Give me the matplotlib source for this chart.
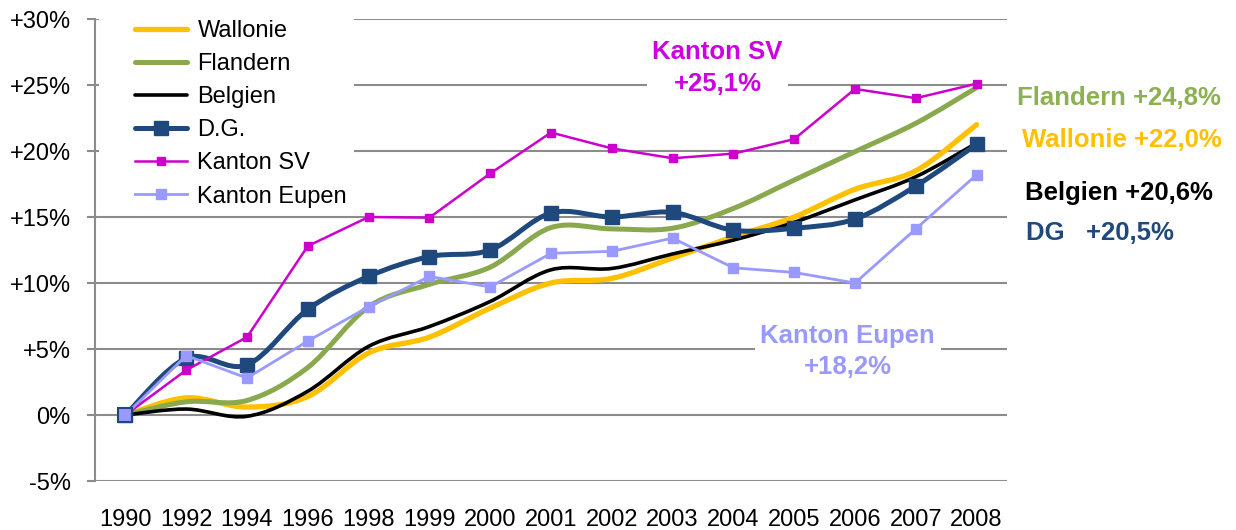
import numpy as np
import matplotlib
matplotlib.use("Agg")
import matplotlib.pyplot as plt
from matplotlib.path import Path
from matplotlib.patches import PathPatch, Rectangle
from matplotlib.lines import Line2D

plt.rcParams['font.family'] = ['Liberation Sans', 'DejaVu Sans']

years = ['1990', '1992', '1994', '1996', '1998', '1999', '2000', '2001',
         '2002', '2003', '2004', '2005', '2006', '2007', '2008']

wallonie = [0, 1.3, 0.6, 1.4, 4.7, 5.9, 8.1, 10.0, 10.35, 11.9, 13.5, 15.0, 17.1, 18.5, 22.0]
flandern = [0, 1.0, 1.1, 3.6, 8.2, 9.9, 11.2, 14.2, 14.1, 14.15, 15.65, 17.8, 19.95, 22.1, 24.8]
belgien = [0, 0.45, -0.1, 1.8, 5.2, 6.7, 8.6, 11.0, 11.1, 12.2, 13.25, 14.6, 16.3, 18.05, 20.6]
dg = [0, 4.3, 3.8, 8.0, 10.5, 12.0, 12.5, 15.3, 15.0, 15.35, 14.0, 14.15, 14.85, 17.35, 20.5]
kanton_sv = [0, 3.4, 5.9, 12.8, 15.0, 14.95, 18.3, 21.4, 20.2, 19.45, 19.8, 20.9, 24.7, 24.0, 25.1]
kanton_eupen = [0, 4.5, 2.8, 5.6, 8.2, 10.5, 9.7, 12.25, 12.4, 13.4, 11.15, 10.8, 10.0, 14.1, 18.2]

c_wal = '#FFC000'
c_fla = '#8AA84E'
c_bel = '#000000'
c_dg = '#1F497D'
c_sv = '#CC00CC'
c_eup = '#9999FF'
c_grid = '#8C8C8C'


def smooth_path(x, y):
    # Excel-like smoothed line: cubic Bezier segments (Catmull-Rom control points)
    pts = np.column_stack([x, y]).astype(float)
    n = len(pts)
    verts = [pts[0]]
    codes = [Path.MOVETO]
    for i in range(n - 1):
        p0 = pts[i - 1] if i > 0 else pts[i]
        p1 = pts[i]
        p2 = pts[i + 1]
        p3 = pts[i + 2] if i + 2 < n else pts[i + 1]
        c1 = p1 + (p2 - p0) / 6.0
        c2 = p2 - (p3 - p1) / 6.0
        verts += [c1, c2, p2]
        codes += [Path.CURVE4] * 3
    return Path(verts, codes)


fig = plt.figure(figsize=(12.36, 5.30), dpi=100)
ax = fig.add_axes([95 / 1236, 1 - 481 / 530, 912 / 1236, 462 / 530])

x = np.arange(len(years))

for vals, col, lw in [(wallonie, c_wal, 3.8), (flandern, c_fla, 3.6),
                      (belgien, c_bel, 2.6), (dg, c_dg, 3.6)]:
    ax.add_patch(PathPatch(smooth_path(x, vals), facecolor='none', edgecolor=col,
                           lw=lw, capstyle='round', joinstyle='round', zorder=3))

ax.plot(x, dg, ls='none', marker='s', ms=10.5, color=c_dg, zorder=4)
ax.plot(x, kanton_sv, color=c_sv, lw=1.8, marker='s', ms=5.5, zorder=5)
ax.plot(x, kanton_eupen, color=c_eup, lw=2.0, marker='s', ms=6.5, zorder=6)
# first D.G. point shows dark edge around the Eupen marker
ax.plot(x[:1], dg[:1], ls='none', marker='s', ms=10.5, mfc=c_eup, mec=c_dg, mew=1.5, zorder=7)

ax.set_xlim(-0.5, len(years) - 0.5)
ax.set_ylim(-5, 30)
yt = np.arange(-5, 31, 5)
ax.set_yticks(yt)
ax.set_yticklabels([('+%d%%' % v) if v > 0 else ('%d%%' % v) for v in yt])
ax.set_xticks(x)
ax.set_xticklabels(years)
ax.tick_params(axis='y', length=5.5, width=1.5, color=c_grid, pad=12, labelsize=17)
ax.tick_params(axis='x', length=0, pad=20, labelsize=17)
ax.grid(axis='y', color=c_grid, lw=1.5)
ax.set_axisbelow(True)
for s in ['top', 'right', 'bottom']:
    ax.spines[s].set_visible(False)
ax.spines['left'].set_color(c_grid)
ax.spines['left'].set_linewidth(1.5)

# white legend area reaches close to the y axis
ax.add_patch(Rectangle((0.004, 0.59), 0.04, 0.42, transform=ax.transAxes,
                       facecolor='white', edgecolor='none', zorder=2, clip_on=False))

handles = [
    Line2D([], [], color=c_wal, lw=3.8, solid_capstyle='round'),
    Line2D([], [], color=c_fla, lw=3.6, solid_capstyle='round'),
    Line2D([], [], color=c_bel, lw=2.6, solid_capstyle='round'),
    Line2D([], [], color=c_dg, lw=3.6, marker='s', ms=10.5, solid_capstyle='round'),
    Line2D([], [], color=c_sv, lw=1.8, marker='s', ms=5.5),
    Line2D([], [], color=c_eup, lw=2.0, marker='s', ms=6.5),
]
labels = ['Wallonie', 'Flandern', 'Belgien', 'D.G.', 'Kanton SV', 'Kanton Eupen']
leg = ax.legend(handles, labels, loc='upper left', bbox_to_anchor=(0.036, 1.013),
                frameon=True, fancybox=False, edgecolor='none', framealpha=1,
                fontsize=17, handlelength=2.2, handletextpad=0.45, labelspacing=0.47,
                borderpad=0.3, borderaxespad=0)
leg.set_zorder(10)

box = dict(facecolor='white', edgecolor='none', pad=4)
ax.text(9.74, 26.3, 'Kanton SV\n+25,1%', color='#CC00E0', fontsize=18.5, fontweight='bold',
        ha='center', va='center', linespacing=1.4, bbox=box, zorder=8)
ax.text(11.88, 4.8, 'Kanton Eupen\n+18,2%', color=c_eup, fontsize=18.5, fontweight='bold',
        ha='center', va='center', linespacing=1.35, bbox=box, zorder=8)
ax.text(14.66, 24.0, 'Flandern +24,8%', color='#8DB050', fontsize=18.5, fontweight='bold',
        ha='left', va='center', clip_on=False)
ax.text(14.74, 20.8, 'Wallonie +22,0%', color=c_wal, fontsize=18.5, fontweight='bold',
        ha='left', va='center', clip_on=False)
ax.text(14.79, 16.8, 'Belgien +20,6%', color=c_bel, fontsize=18.5, fontweight='bold',
        ha='left', va='center', clip_on=False)
ax.text(14.82, 13.8, 'DG   +20,5%', color=c_dg, fontsize=18.5, fontweight='bold',
        ha='left', va='center', clip_on=False)

fig.savefig('out.png', dpi=100)
